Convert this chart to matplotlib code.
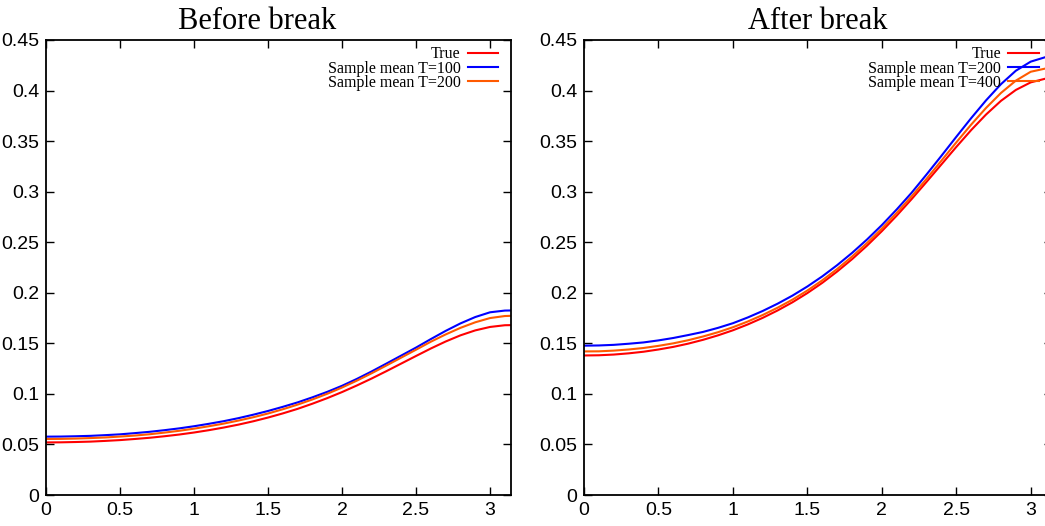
import matplotlib
matplotlib.use('Agg')
import matplotlib.pyplot as plt
import numpy as np

# frequency grid (0 .. pi), step 0.1
freq = [0.0, 0.1, 0.2, 0.3, 0.4, 0.5, 0.6, 0.7, 0.8, 0.9, 1.0, 1.1, 1.2, 1.3, 1.4, 1.5, 1.6,
        1.7, 1.8, 1.9, 2.0, 2.1, 2.2, 2.3, 2.4, 2.5, 2.6, 2.7, 2.8, 2.9, 3.0, 3.1, 3.1416]

# before break
before_true = [0.0520, 0.0521, 0.0524, 0.0528, 0.0535, 0.0543, 0.0554, 0.0566, 0.0581, 0.0598,
               0.0618, 0.0641, 0.0667, 0.0696, 0.0729, 0.0766, 0.0807, 0.0852, 0.0903, 0.0958,
               0.1018, 0.1083, 0.1152, 0.1225, 0.1300, 0.1375, 0.1449, 0.1518, 0.1579, 0.1628,
               0.1662, 0.1679, 0.1680]
before_t100 = [0.0577, 0.0578, 0.0581, 0.0585, 0.0592, 0.0600, 0.0612, 0.0625, 0.0641, 0.0659,
               0.0680, 0.0704, 0.0730, 0.0760, 0.0794, 0.0831, 0.0872, 0.0916, 0.0966, 0.1020,
               0.1080, 0.1148, 0.1222, 0.1300, 0.1379, 0.1458, 0.1542, 0.1623, 0.1697, 0.1760,
               0.1807, 0.1824, 0.1825]
before_t200 = [0.0554, 0.0555, 0.0558, 0.0563, 0.0569, 0.0578, 0.0588, 0.0601, 0.0617, 0.0635,
               0.0656, 0.0680, 0.0706, 0.0736, 0.0769, 0.0806, 0.0848, 0.0894, 0.0945, 0.1001,
               0.1063, 0.1131, 0.1204, 0.1281, 0.1359, 0.1437, 0.1516, 0.1588, 0.1653, 0.1708,
               0.1750, 0.1770, 0.1772]

# after break
after_true = [0.1380, 0.1382, 0.1389, 0.1401, 0.1417, 0.1439, 0.1465, 0.1497, 0.1535, 0.1579,
              0.1629, 0.1687, 0.1752, 0.1825, 0.1906, 0.1997, 0.2098, 0.2210, 0.2332, 0.2465,
              0.2609, 0.2763, 0.2926, 0.3096, 0.3269, 0.3442, 0.3609, 0.3763, 0.3898, 0.4006,
              0.4081, 0.4118, 0.4122]
after_t200 = [0.1477, 0.1479, 0.1485, 0.1496, 0.1509, 0.1529, 0.1553, 0.1582, 0.1613, 0.1653,
              0.1699, 0.1756, 0.1820, 0.1892, 0.1972, 0.2062, 0.2162, 0.2273, 0.2394, 0.2526,
              0.2669, 0.2824, 0.2989, 0.3169, 0.3354, 0.3542, 0.3727, 0.3903, 0.4063, 0.4196,
              0.4286, 0.4331, 0.4335]
after_t400 = [0.1420, 0.1421, 0.1428, 0.1439, 0.1454, 0.1475, 0.1500, 0.1531, 0.1568, 0.1610,
              0.1659, 0.1716, 0.1780, 0.1852, 0.1932, 0.2022, 0.2123, 0.2235, 0.2358, 0.2491,
              0.2635, 0.2790, 0.2954, 0.3126, 0.3306, 0.3487, 0.3663, 0.3828, 0.3976, 0.4098,
              0.4186, 0.4218, 0.4220]

yticks = [0, 0.05, 0.1, 0.15, 0.2, 0.25, 0.3, 0.35, 0.4, 0.45]
ytick_labels = ['0', '0.05', '0.1', '0.15', '0.2', '0.25', '0.3', '0.35', '0.4', '0.45']
xticks = [0, 0.5, 1, 1.5, 2, 2.5, 3]
xtick_labels = ['0', '0.5', '1', '1.5', '2', '2.5', '3']

RED = '#ff0000'
BLUE = '#0000ff'
ORANGE = '#ff5a00'

plt.rcParams['font.family'] = ['Liberation Sans Narrow', 'Liberation Sans', 'DejaVu Sans']


def setup_ax(ax, title, title_x):
    ax.set_xlim(0, np.pi)
    ax.set_ylim(0, 0.45)
    ax.set_xticks(xticks)
    ax.set_xticklabels(xtick_labels)
    ax.set_yticks(yticks)
    ax.set_yticklabels(ytick_labels)
    ax.tick_params(direction='in', length=6, width=1.0, top=True, right=True,
                   labelsize=14, pad=5)
    for s in ax.spines.values():
        s.set_linewidth(1.3)
    ax.set_title(title, family='Liberation Serif', fontsize=22, pad=8, x=title_x)


def draw(ax, true, s1, s2, lab1, lab2, width_px):
    ax.plot(freq, true, color=RED, lw=1.5, label='True')
    ax.plot(freq, s1, color=BLUE, lw=1.5, label=lab1)
    ax.plot(freq, s2, color=ORANGE, lw=1.5, label=lab2)
    ax.legend(loc='upper right', bbox_to_anchor=(1 - 13 / width_px, 1 - 6.5 / 455),
              markerfirst=False, frameon=False, handlelength=1.9, handletextpad=0.45,
              labelspacing=-0.12, borderpad=0, borderaxespad=0,
              prop={'family': 'Liberation Serif', 'size': 11.5})


fig = plt.figure(figsize=(10.45, 5.26), dpi=100)
ax1 = fig.add_axes([46 / 1045, 31 / 526, 465 / 1045, 455 / 526])
ax2 = fig.add_axes([584 / 1045, 31 / 526, 467.8 / 1045, 455 / 526])

draw(ax1, before_true, before_t100, before_t200, 'Sample mean T=100', 'Sample mean T=200', 465)
setup_ax(ax1, 'Before break', 0.455)
draw(ax2, after_true, after_t200, after_t400, 'Sample mean T=200', 'Sample mean T=400', 467.8)
setup_ax(ax2, 'After break', 0.5)

fig.savefig('out.png', dpi=100)
